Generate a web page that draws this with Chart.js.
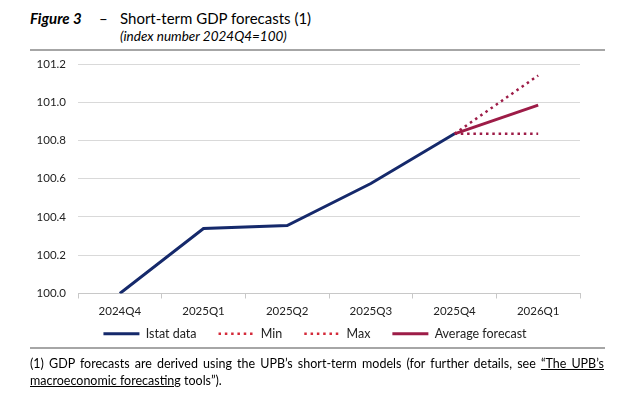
<!DOCTYPE html>
<html>
<head>
<meta charset="utf-8">
<script src="https://cdn.jsdelivr.net/npm/chart.js@4.4.1/dist/chart.umd.min.js"></script>
<style>
  html, body { margin:0; padding:0; background:#fff; }
  body { width:640px; height:402px; position:relative; overflow:hidden; font-family: Lato, "Open Sans", sans-serif; color:#000; }
  #t1 { position:absolute; left:30px; top:9px; font-size:15px; font-weight:bold; font-style:italic; }
  #dash { position:absolute; left:99px; top:9px; font-size:15px; }
  #t2 { position:absolute; left:120px; top:9px; font-size:15px; }
  #t3 { position:absolute; left:120px; top:28px; font-size:13.5px; font-style:italic; }
  .rule { position:absolute; left:30px; width:575px; height:2px; background:#a6a6a6; z-index:5; }
  #wrap { position:absolute; left:0; top:52px; width:640px; height:316px; }
  #foot { position:absolute; left:30px; top:355px; width:574px; font-size:12.5px; line-height:17px; text-align:justify; text-align-last:left; }
  #foot u { text-decoration: underline; }
</style>
</head>
<body>
<div id="t1">Figure 3</div>
<div id="dash">–</div>
<div id="t2">Short-term GDP forecasts (1)</div>
<div id="t3">(index number 2024Q4=100)</div>
<div id="wrap"><canvas id="c" width="640" height="316"></canvas></div>
<div class="rule" style="top:49px"></div>
<div class="rule" style="top:347px"></div>
<div id="foot">(1) GDP forecasts are derived using the UPB’s short-term models (for further details, see <u>“The UPB’s macroeconomic forecasting</u> tools”).</div>
<script>
const categories = ['2024Q4','2025Q1','2025Q2','2025Q3','2025Q4','2026Q1'];
const istatData = [100.0, 100.34, 100.355, 100.575, 100.835, null];
const minForecast = [null, null, null, null, 100.835, 100.835];
const maxForecast = [null, null, null, null, 100.835, 101.14];
const avgForecast = [null, null, null, null, 100.835, 100.985];
const yTicks = [100.0, 100.2, 100.4, 100.6, 100.8, 101.0, 101.2];

const NAVY = '#15296b';
const CRIMSON = '#9d1c47';
const DOT = [2.5, 3.8];
const font = { family: 'Lato, "Open Sans", sans-serif', size: 11.5 };

const legendShift = {
  id: 'legendShift',
  afterLayout(chart) {
    const lg = chart.legend;
    if (!lg) return;
    const dx = 25, dy = -18;
    lg.left += dx; lg.right += dx; lg.top += dy; lg.bottom += dy;
  }
};

new Chart(document.getElementById('c'), {
  type: 'line',
  data: {
    labels: categories,
    datasets: [
      { label: 'Istat data', data: istatData, borderColor: NAVY, backgroundColor: NAVY, borderWidth: 3, pointRadius: 0, tension: 0 },
      { label: 'Min', data: minForecast, borderColor: CRIMSON, backgroundColor: CRIMSON, borderWidth: 2.5, borderDash: DOT, pointRadius: 0, tension: 0 },
      { label: 'Max', data: maxForecast, borderColor: CRIMSON, backgroundColor: CRIMSON, borderWidth: 2.5, borderDash: DOT, pointRadius: 0, tension: 0 },
      { label: 'Average forecast', data: avgForecast, borderColor: CRIMSON, backgroundColor: CRIMSON, borderWidth: 3, pointRadius: 0, tension: 0 }
    ]
  },
  plugins: [legendShift],
  options: {
    responsive: false,
    animation: false,
    layout: { padding: { left: 0, right: 60, top: 3, bottom: 0 } },
    plugins: {
      tooltip: { enabled: false },
      legend: {
        position: 'bottom',
        labels: {
          usePointStyle: true,
          pointStyle: 'line',
          pointStyleWidth: 36,
          boxHeight: 10,
          padding: 22,
          color: '#222',
          font: { family: font.family, size: 12.5 },
          generateLabels: (chart) => {
            const items = Chart.defaults.plugins.legend.labels.generateLabels(chart);
            items.forEach((it, i) => {
              const ds = chart.data.datasets[i];
              it.pointStyle = 'line';
              it.lineWidth = ds.borderWidth;
              it.lineDash = ds.borderDash || [];
              it.strokeStyle = ds.borderColor;
              if (it.text === 'Min' || it.text === 'Max') { it.strokeStyle = '#d42a3a'; }
            });
            return items;
          }
        }
      }
    },
    scales: {
      x: {
        offset: true,
        grid: { offset: true, drawOnChartArea: false, drawTicks: true, tickLength: 5, color: '#c8c8c8' },
        border: { display: true, color: '#c8c8c8', width: 1 },
        ticks: { color: '#222', font: font, padding: 6, maxRotation: 0 },
        afterFit: (s) => { s.height = 30; }
      },
      y: {
        min: 100.0, max: 101.2,
        afterBuildTicks: (s) => { s.ticks = yTicks.map(v => ({ value: v })); },
        grid: { color: '#d9d9d9', drawTicks: false, lineWidth: 1 },
        border: { display: false },
        ticks: { color: '#222', font: font, padding: 12, callback: (v) => Number(v).toFixed(1) },
        afterFit: (s) => { s.width = 78; s.paddingTop = 12; }
      }
    }
  }
});
</script>
</body>
</html>
